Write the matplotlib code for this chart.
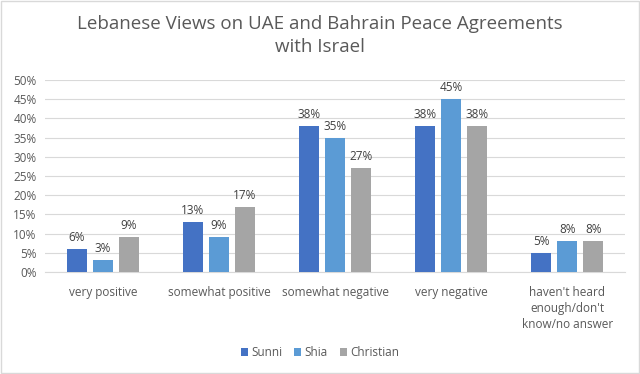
import matplotlib
matplotlib.use("Agg")
import matplotlib.pyplot as plt
import numpy as np
from matplotlib.patches import Rectangle

categories = ["very positive", "somewhat positive", "somewhat negative", "very negative",
              "haven't heard\nenough/don't\nknow/no answer"]
series_names = ["Sunni", "Shia", "Christian"]
sunni = [6, 13, 38, 38, 5]
shia = [3, 9, 35, 45, 8]
christian = [9, 17, 27, 38, 8]
yticks = [0, 5, 10, 15, 20, 25, 30, 35, 40, 45, 50]

colors = ["#4472C4", "#5B9BD5", "#A5A5A5"]
txt = "#595959"
plt.rcParams['font.family'] = ['Open Sans', 'DejaVu Sans']

fig = plt.figure(figsize=(6.4, 3.74), dpi=100)
ax = fig.add_axes([0.070, 0.273, 0.907, 0.513])
x = np.arange(len(categories))
offs = [-0.224, 0, 0.224]
w = 0.17
for s, (vals, c, name) in enumerate(zip([sunni, shia, christian], colors, series_names)):
    bars = ax.bar(x + offs[s], vals, width=w, color=c, label=name, zorder=3)
    for b, v in zip(bars, vals):
        ax.text(b.get_x() + b.get_width() / 2, v + 1.3, f"{v}%", ha="center", va="bottom",
                fontsize=8.5, color="#404040")

ax.set_xlim(-0.5, len(categories) - 0.5)
ax.set_ylim(0, 50)
ax.set_yticks(yticks)
ax.set_yticklabels([f"{t}%" for t in yticks], fontsize=8.5, color=txt)
ax.set_xticks(x)
ax.set_xticklabels(categories, fontsize=8.5, color=txt, linespacing=1.3)
ax.tick_params(axis="y", length=0, pad=6)
ax.tick_params(axis="x", length=0, pad=10)
ax.grid(axis="y", color="#D9D9D9", linewidth=0.8, zorder=0)
for sp in ["top", "right", "left"]:
    ax.spines[sp].set_visible(False)
ax.spines["bottom"].set_color("#D9D9D9")
ax.set_axisbelow(True)

fig.text(0.5, 0.905, "Lebanese Views on UAE and Bahrain Peace Agreements\nwith Israel",
         ha="center", va="center", fontsize=13.5, color=txt, linespacing=1.35)

ax.legend(loc="center", bbox_to_anchor=(0.5, 0.057), bbox_transform=fig.transFigure,
          ncol=3, frameon=False, fontsize=8.5, handlelength=0.6, handleheight=0.6,
          handletextpad=0.3, columnspacing=1.0, labelcolor=txt)

fig.patches.append(Rectangle((0.001, 0.002), 0.997, 0.995, transform=fig.transFigure,
                             fill=False, edgecolor="#D9D9D9", linewidth=1.0))
fig.savefig("out.png", dpi=100)
